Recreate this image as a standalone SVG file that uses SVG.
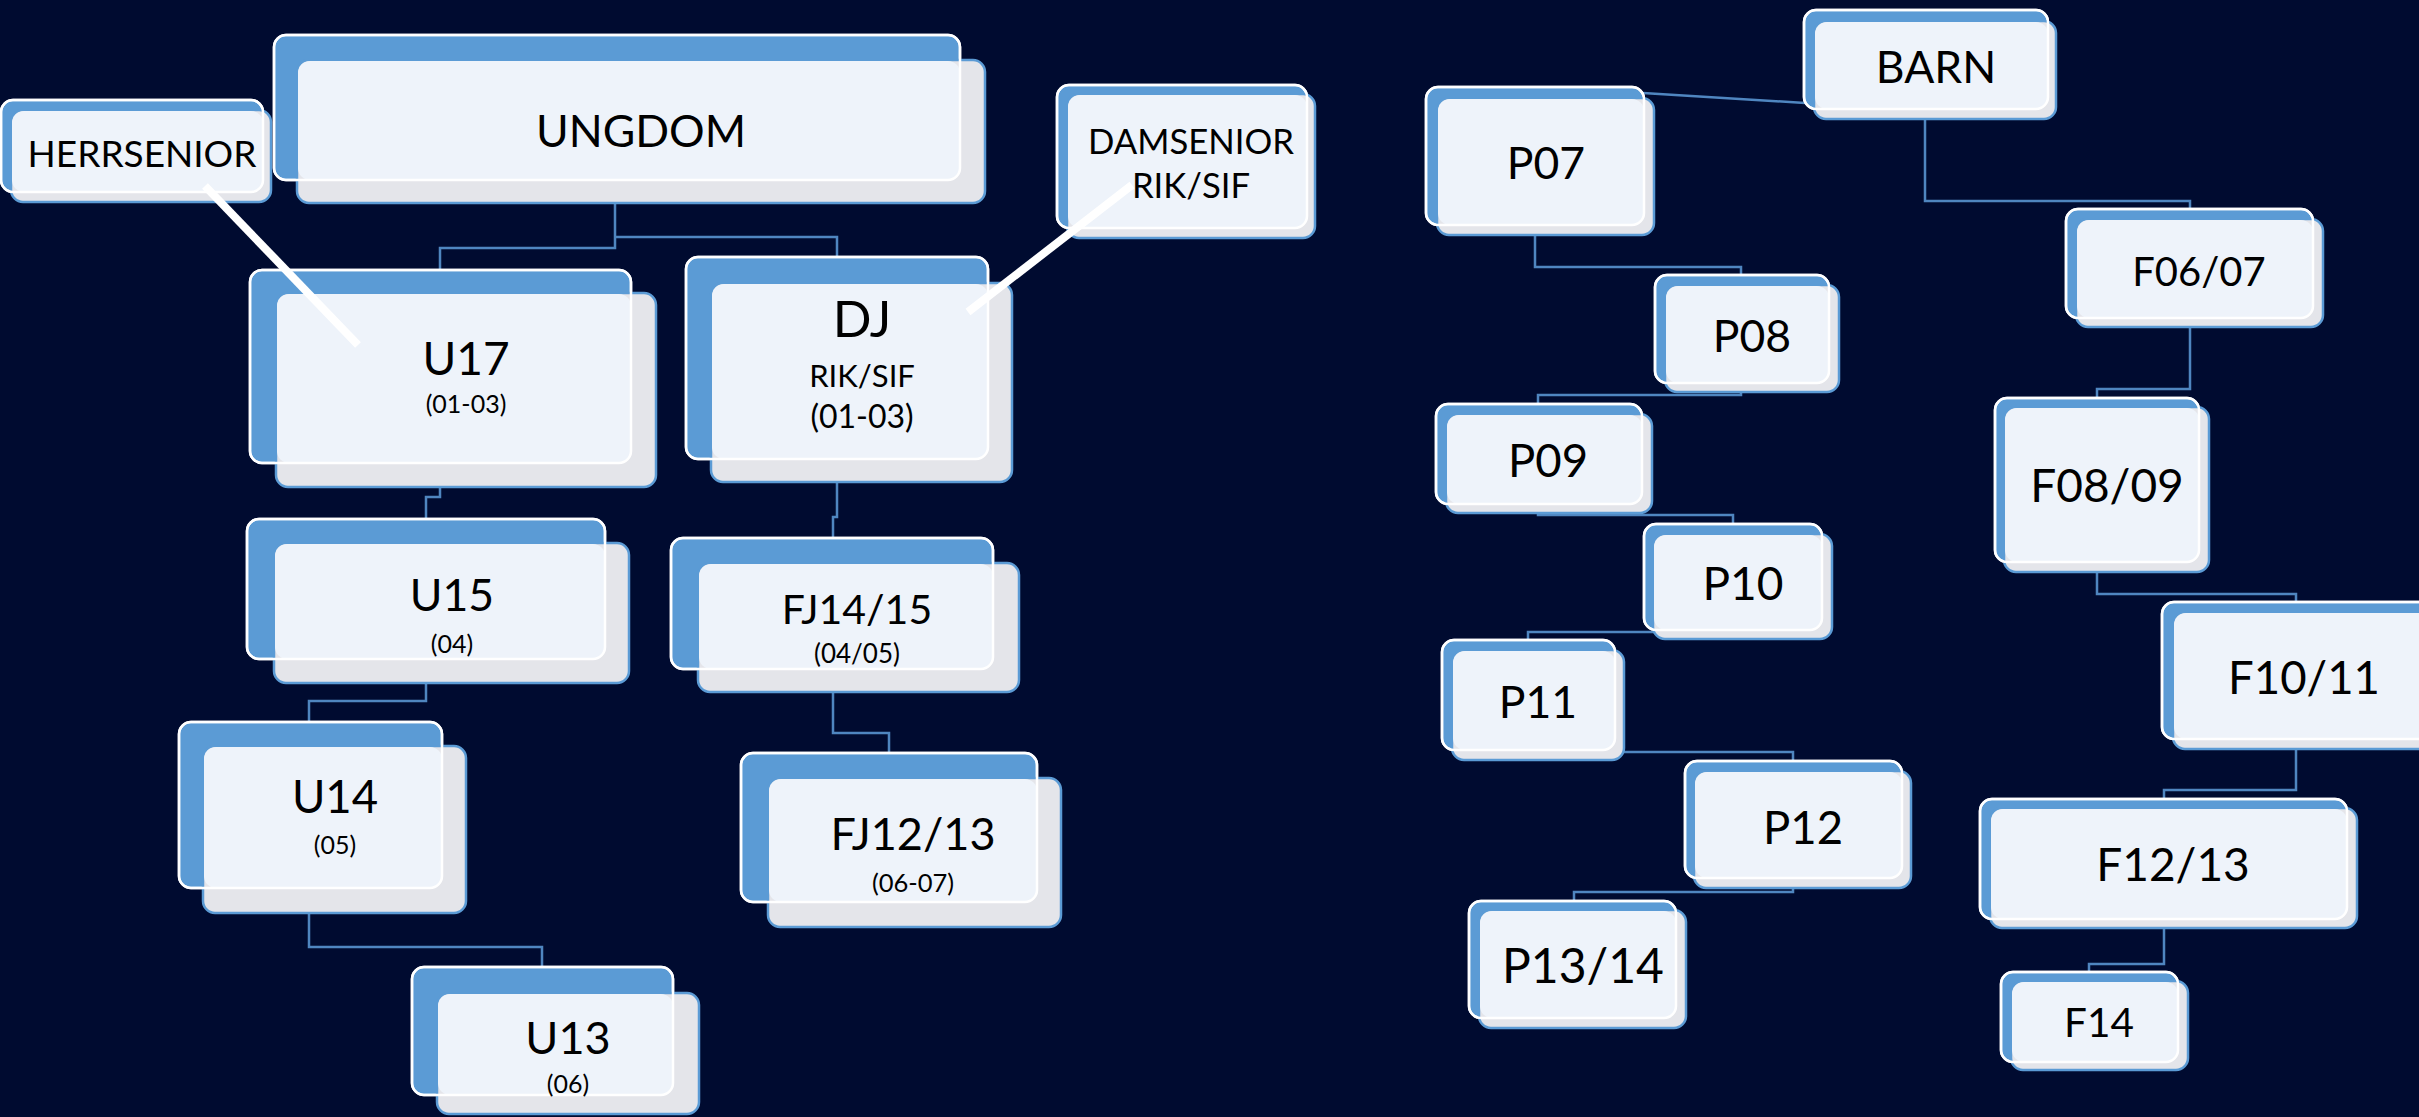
<svg xmlns="http://www.w3.org/2000/svg" width="2419" height="1117" viewBox="0 0 2419 1117">
<defs>
<style>
.bk{fill:#5B9BD5;stroke:#FFFFFF;stroke-width:2.5}
.fr{fill:#E4E5EA;stroke:#5B9BD5;stroke-width:2.5}
.ov{fill:#EEF3FA}
.bo{fill:none;stroke:#FFFFFF;stroke-width:2.5}
.cn{fill:none;stroke:#4F86C0;stroke-width:2.5}
.pt{stroke:#FFFFFF;stroke-width:8;fill:none}
text{font-family:Lato,"Liberation Sans",sans-serif;fill:#000000;text-anchor:middle}
</style>
</defs>
<rect x="0" y="0" width="2419" height="1117" fill="#000B30"/>
<g id="connectors">
<path class="cn" d="M615,180 V248 H440 V270"/>
<path class="cn" d="M615,237 H837 V257"/>
<path class="cn" d="M440,463 V497 H426 V519"/>
<path class="cn" d="M426,659 V701 H309 V722"/>
<path class="cn" d="M309,888 V947 H542 V967"/>
<path class="cn" d="M837,459 V517 H833 V538"/>
<path class="cn" d="M833,669 V733 H889 V753"/>
<path class="cn" d="M1643,93 L1805,103"/>
<path class="cn" d="M1925,109 V201 H2190 V209"/>
<path class="cn" d="M2190,318 V389 H2097 V398"/>
<path class="cn" d="M2097,562 V594 H2296 V602"/>
<path class="cn" d="M2296,739 V790 H2164 V799"/>
<path class="cn" d="M2164,919 V964 H2089 V972"/>
<path class="cn" d="M1535,225 V267 H1741 V275"/>
<path class="cn" d="M1741,383 V395 H1538 V404"/>
<path class="cn" d="M1538,504 V515 H1733 V524"/>
<path class="cn" d="M1733,630 V632 H1528 V640"/>
<path class="cn" d="M1528,750 V752 H1793 V761"/>
<path class="cn" d="M1793,878 V892 H1574 V901"/>
</g>
<g id="herrsenior">
<rect class="bk" x="1" y="100" width="262" height="92" rx="12"/>
<rect class="fr" x="11" y="110" width="260" height="92" rx="12"/>
<rect class="ov" x="12" y="111" width="251" height="81" rx="12"/>
<rect class="bo" x="1" y="100" width="262" height="92" rx="12"/>
<text x="142" y="167" font-size="37">HERRSENIOR</text>
</g>
<g id="ungdom">
<rect class="bk" x="274" y="35" width="686" height="145" rx="12"/>
<rect class="fr" x="297" y="60" width="688" height="143" rx="12"/>
<rect class="ov" x="298" y="61" width="662" height="119" rx="12"/>
<rect class="bo" x="274" y="35" width="686" height="145" rx="12"/>
<text x="641" y="147" font-size="44.5">UNGDOM</text>
</g>
<g id="damsenior">
<rect class="bk" x="1057" y="85" width="250" height="143" rx="12"/>
<rect class="fr" x="1067" y="94" width="248" height="144" rx="12"/>
<rect class="ov" x="1068" y="95" width="239" height="133" rx="12"/>
<rect class="bo" x="1057" y="85" width="250" height="143" rx="12"/>
<text x="1191" y="154" font-size="34.7">DAMSENIOR</text>
<text x="1191" y="198" font-size="34.7">RIK/SIF</text>
</g>
<g id="u17">
<rect class="bk" x="250" y="270" width="381" height="193" rx="12"/>
<rect class="fr" x="276" y="293" width="380" height="194" rx="12"/>
<rect class="ov" x="277" y="294" width="354" height="169" rx="12"/>
<rect class="bo" x="250" y="270" width="381" height="193" rx="12"/>
<text x="466" y="375" font-size="46">U17</text>
<text x="466" y="413" font-size="25">(01-03)</text>
</g>
<g id="dj">
<rect class="bk" x="686" y="257" width="302" height="202" rx="12"/>
<rect class="fr" x="711" y="283" width="301" height="199" rx="12"/>
<rect class="ov" x="712" y="284" width="276" height="175" rx="12"/>
<rect class="bo" x="686" y="257" width="302" height="202" rx="12"/>
<text x="862" y="337" font-size="51">DJ</text>
<text x="862" y="387" font-size="31">RIK/SIF</text>
<text x="862" y="428" font-size="32">(01-03)</text>
</g>
<g id="u15">
<rect class="bk" x="247" y="519" width="358" height="140" rx="12"/>
<rect class="fr" x="274" y="543" width="355" height="140" rx="12"/>
<rect class="ov" x="275" y="544" width="330" height="115" rx="12"/>
<rect class="bo" x="247" y="519" width="358" height="140" rx="12"/>
<text x="452" y="611" font-size="44.5">U15</text>
<text x="452" y="653" font-size="25">(04)</text>
</g>
<g id="fj1415">
<rect class="bk" x="671" y="538" width="322" height="131" rx="12"/>
<rect class="fr" x="698" y="563" width="321" height="129" rx="12"/>
<rect class="ov" x="699" y="564" width="294" height="105" rx="12"/>
<rect class="bo" x="671" y="538" width="322" height="131" rx="12"/>
<text x="857" y="624" font-size="41">FJ14/15</text>
<text x="857" y="663" font-size="26">(04/05)</text>
</g>
<g id="u14">
<rect class="bk" x="179" y="722" width="263" height="166" rx="12"/>
<rect class="fr" x="203" y="746" width="263" height="167" rx="12"/>
<rect class="ov" x="204" y="747" width="238" height="141" rx="12"/>
<rect class="bo" x="179" y="722" width="263" height="166" rx="12"/>
<text x="335" y="813" font-size="45.5">U14</text>
<text x="335" y="854" font-size="25">(05)</text>
</g>
<g id="fj1213">
<rect class="bk" x="741" y="753" width="296" height="149" rx="12"/>
<rect class="fr" x="768" y="778" width="293" height="149" rx="12"/>
<rect class="ov" x="769" y="779" width="268" height="123" rx="12"/>
<rect class="bo" x="741" y="753" width="296" height="149" rx="12"/>
<text x="913" y="850" font-size="45">FJ12/13</text>
<text x="913" y="892" font-size="25.5">(06-07)</text>
</g>
<g id="u13">
<rect class="bk" x="412" y="967" width="261" height="128" rx="12"/>
<rect class="fr" x="437" y="993" width="262" height="121" rx="12"/>
<rect class="ov" x="438" y="994" width="235" height="101" rx="12"/>
<rect class="bo" x="412" y="967" width="261" height="128" rx="12"/>
<text x="568" y="1054" font-size="45">U13</text>
<text x="568" y="1093" font-size="25">(06)</text>
</g>
<g id="barn">
<rect class="bk" x="1804" y="10" width="244" height="99" rx="12"/>
<rect class="fr" x="1814" y="21" width="242" height="98" rx="12"/>
<rect class="ov" x="1815" y="22" width="233" height="87" rx="12"/>
<rect class="bo" x="1804" y="10" width="244" height="99" rx="12"/>
<text x="1936" y="83" font-size="44.5">BARN</text>
</g>
<g id="p07">
<rect class="bk" x="1426" y="87" width="218" height="138" rx="12"/>
<rect class="fr" x="1437" y="98" width="217" height="137" rx="12"/>
<rect class="ov" x="1438" y="99" width="206" height="126" rx="12"/>
<rect class="bo" x="1426" y="87" width="218" height="138" rx="12"/>
<text x="1546" y="179" font-size="44.5">P07</text>
</g>
<g id="f0607">
<rect class="bk" x="2066" y="209" width="247" height="109" rx="12"/>
<rect class="fr" x="2076" y="219" width="247" height="108" rx="12"/>
<rect class="ov" x="2077" y="220" width="236" height="98" rx="12"/>
<rect class="bo" x="2066" y="209" width="247" height="109" rx="12"/>
<text x="2199" y="286" font-size="40">F06/07</text>
</g>
<g id="p08">
<rect class="bk" x="1655" y="275" width="174" height="108" rx="12"/>
<rect class="fr" x="1665" y="285" width="174" height="107" rx="12"/>
<rect class="ov" x="1666" y="286" width="163" height="97" rx="12"/>
<rect class="bo" x="1655" y="275" width="174" height="108" rx="12"/>
<text x="1752" y="352" font-size="44.5">P08</text>
</g>
<g id="f0809">
<rect class="bk" x="1995" y="398" width="204" height="164" rx="12"/>
<rect class="fr" x="2004" y="407" width="205" height="165" rx="12"/>
<rect class="ov" x="2005" y="408" width="194" height="154" rx="12"/>
<rect class="bo" x="1995" y="398" width="204" height="164" rx="12"/>
<text x="2107" y="502" font-size="46">F08/09</text>
</g>
<g id="p09">
<rect class="bk" x="1436" y="404" width="206" height="100" rx="12"/>
<rect class="fr" x="1446" y="414" width="206" height="99" rx="12"/>
<rect class="ov" x="1447" y="415" width="195" height="89" rx="12"/>
<rect class="bo" x="1436" y="404" width="206" height="100" rx="12"/>
<text x="1548" y="477" font-size="45.5">P09</text>
</g>
<g id="p10">
<rect class="bk" x="1644" y="524" width="178" height="106" rx="12"/>
<rect class="fr" x="1653" y="534" width="179" height="105" rx="12"/>
<rect class="ov" x="1654" y="535" width="168" height="95" rx="12"/>
<rect class="bo" x="1644" y="524" width="178" height="106" rx="12"/>
<text x="1743" y="600" font-size="46">P10</text>
</g>
<g id="f1011">
<rect class="bk" x="2162" y="602" width="268" height="137" rx="12"/>
<rect class="fr" x="2173" y="612" width="267" height="137" rx="12"/>
<rect class="ov" x="2174" y="613" width="256" height="126" rx="12"/>
<rect class="bo" x="2162" y="602" width="268" height="137" rx="12"/>
<text x="2304" y="694" font-size="45.5">F10/11</text>
</g>
<g id="p11">
<rect class="bk" x="1442" y="640" width="173" height="110" rx="12"/>
<rect class="fr" x="1452" y="650" width="172" height="110" rx="12"/>
<rect class="ov" x="1453" y="651" width="162" height="99" rx="12"/>
<rect class="bo" x="1442" y="640" width="173" height="110" rx="12"/>
<text x="1538" y="718" font-size="44.5">P11</text>
</g>
<g id="p12">
<rect class="bk" x="1685" y="761" width="217" height="117" rx="12"/>
<rect class="fr" x="1694" y="771" width="217" height="117" rx="12"/>
<rect class="ov" x="1695" y="772" width="207" height="106" rx="12"/>
<rect class="bo" x="1685" y="761" width="217" height="117" rx="12"/>
<text x="1803" y="844" font-size="45.5">P12</text>
</g>
<g id="f1213">
<rect class="bk" x="1980" y="799" width="367" height="120" rx="12"/>
<rect class="fr" x="1990" y="808" width="367" height="120" rx="12"/>
<rect class="ov" x="1991" y="809" width="356" height="110" rx="12"/>
<rect class="bo" x="1980" y="799" width="367" height="120" rx="12"/>
<text x="2173" y="881" font-size="46">F12/13</text>
</g>
<g id="p1314">
<rect class="bk" x="1469" y="901" width="207" height="117" rx="12"/>
<rect class="fr" x="1479" y="910" width="207" height="118" rx="12"/>
<rect class="ov" x="1480" y="911" width="196" height="107" rx="12"/>
<rect class="bo" x="1469" y="901" width="207" height="117" rx="12"/>
<text x="1583" y="983" font-size="48">P13/14</text>
</g>
<g id="f14">
<rect class="bk" x="2001" y="972" width="177" height="90" rx="12"/>
<rect class="fr" x="2011" y="981" width="177" height="89" rx="12"/>
<rect class="ov" x="2012" y="982" width="166" height="80" rx="12"/>
<rect class="bo" x="2001" y="972" width="177" height="90" rx="12"/>
<text x="2099" y="1037" font-size="40.5">F14</text>
</g>
<g id="pointers">
<path class="pt" d="M205,186 L358,345"/>
<path class="pt" d="M1132,185 L968,312"/>
</g>
</svg>
